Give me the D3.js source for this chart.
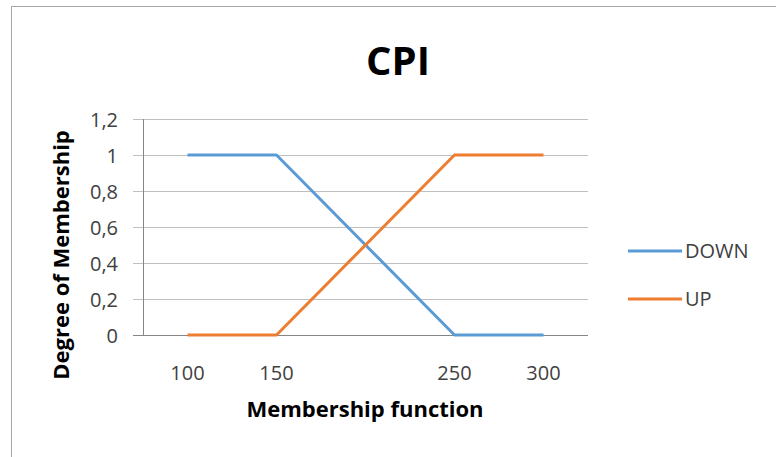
<!DOCTYPE html>
<html>
<head>
<meta charset="utf-8">
<script src="https://cdn.jsdelivr.net/npm/d3@7"></script>
<style>
  body { margin: 0; background: #fff; }
  text { font-family: "Open Sans", Lato, sans-serif; }
</style>
</head>
<body>
<div id="chart"></div>
<script>
// data
let categories = ["100", "150", "", "250", "300"]
let downValues = [1, 1, 0.5, 0, 0]
let upValues = [0, 0, 0.5, 1, 1]
let yTicks = [0, 0.2, 0.4, 0.6, 0.8, 1, 1.2]
let seriesNames = ["DOWN", "UP"]
let seriesColors = ["#5B9BD5", "#ED7D31"]

let svg = d3.select("#chart")
    .append("svg")
    .attr("width", 776)
    .attr("height", 457)

// frame
svg.append("rect")
    .attr("x", 11.5).attr("y", 6.5)
    .attr("width", 800).attr("height", 500)
    .attr("fill", "#fff")
    .attr("stroke", "#A6A6A6")

let xScale = d3.scalePoint()
    .domain(d3.range(categories.length))
    .range([143, 588])
    .padding(0.5)
let yScale = d3.scaleLinear()
    .domain([0, 1.2])
    .range([335, 119])

// gridlines + y tick marks
svg.append("g")
    .selectAll("line")
    .data(yTicks)
    .enter()
    .append("line")
    .attr("x1", 133).attr("x2", 588)
    .attr("y1", d => Math.round(yScale(d)) + 0.5)
    .attr("y2", d => Math.round(yScale(d)) + 0.5)
    .attr("stroke", d => d === 0 ? "#868686" : "#BFBFBF")
    .attr("stroke-width", 1)

// y axis line
svg.append("line")
    .attr("x1", 143.5).attr("x2", 143.5)
    .attr("y1", yScale(1.2)).attr("y2", yScale(0))
    .attr("stroke", "#868686")

// y labels
svg.append("g")
    .selectAll("text")
    .data(yTicks)
    .enter()
    .append("text")
    .attr("x", 118)
    .attr("y", d => yScale(d) + 8)
    .attr("text-anchor", "end")
    .attr("font-size", 20)
    .attr("fill", "#404040")
    .text(d => String(d).replace(".", ","))

// x labels
svg.append("g")
    .selectAll("text")
    .data(categories)
    .enter()
    .append("text")
    .attr("x", (d, i) => xScale(i))
    .attr("y", 380)
    .attr("text-anchor", "middle")
    .attr("font-size", 20)
    .attr("fill", "#404040")
    .text(d => d)

// lines
let line = d3.line()
    .x((d, i) => xScale(i))
    .y(d => yScale(d))
let allSeries = [downValues, upValues]
svg.append("g")
    .selectAll("path")
    .data(allSeries)
    .enter()
    .append("path")
    .attr("d", d => line(d))
    .attr("fill", "none")
    .attr("stroke", (d, i) => seriesColors[i])
    .attr("stroke-width", 3)
    .attr("stroke-linejoin", "round")

// title
svg.append("text")
    .attr("x", 398).attr("y", 75)
    .attr("text-anchor", "middle")
    .attr("font-size", 40)
    .attr("font-weight", "bold")
    .attr("fill", "#000")
    .text("CPI")

// axis titles
svg.append("text")
    .attr("x", 365).attr("y", 417)
    .attr("text-anchor", "middle")
    .attr("font-size", 22)
    .attr("font-weight", "bold")
    .attr("fill", "#000")
    .text("Membership function")

svg.append("text")
    .attr("transform", "translate(69,255) rotate(-90)")
    .attr("text-anchor", "middle")
    .attr("font-size", 22)
    .attr("font-weight", "bold")
    .attr("fill", "#000")
    .text("Degree of Membership")

// legend
let legend = svg.append("g")
    .selectAll("g")
    .data(seriesNames)
    .enter()
    .append("g")
    .attr("transform", (d, i) => "translate(628," + (251 + i * 48) + ")")
legend.append("line")
    .attr("x1", 0).attr("x2", 54)
    .attr("stroke", (d, i) => seriesColors[i])
    .attr("stroke-width", 3)
legend.append("text")
    .attr("x", 57).attr("y", 7)
    .attr("font-size", 20)
    .attr("fill", "#404040")
    .text(d => d)
</script>
</body>
</html>
